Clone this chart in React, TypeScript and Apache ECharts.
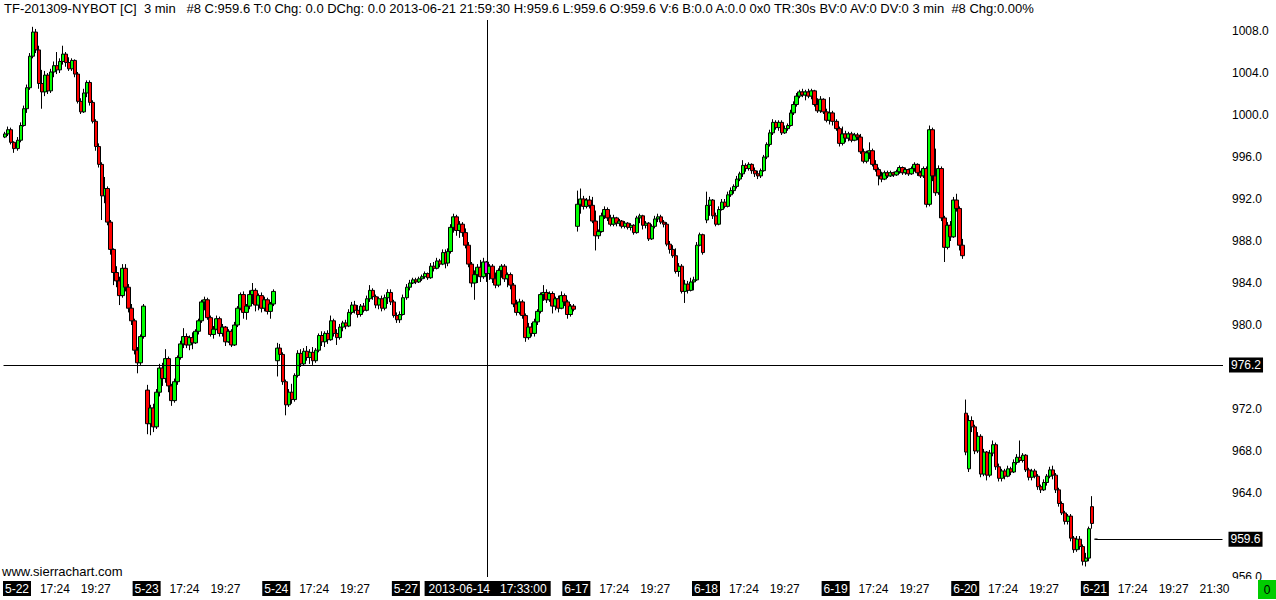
import React, { useEffect, useRef } from 'react';
import * as echarts from 'echarts';

const FONT = '"Liberation Sans", Arial, sans-serif';

// Session days shown on the chart (3-minute bars)
const dayNames = ['5-21', '5-22', '5-23', '5-24', '5-27', '6-14', '6-17', '6-18', '6-19', '6-20', '6-21'];
const dayFirstTimes = ['21:21', '15:30', '15:30', '15:30', '15:30', '15:30', '15:30', '15:30', '15:30', '15:30', '15:30'];
const dayBarCounts = [13, 130, 130, 130, 41, 130, 130, 130, 130, 130, 129];

// Tick labels shown on the time axis
const xTickLabels = [
  '5-22 15:30', '5-22 17:24', '5-22 19:27',
  '5-23 15:30', '5-23 17:24', '5-23 19:27',
  '5-24 15:30', '5-24 17:24', '5-24 19:27',
  '5-27 15:30', '6-14 17:33',
  '6-17 15:30', '6-17 17:24', '6-17 19:27',
  '6-18 15:30', '6-18 17:24', '6-18 19:27',
  '6-19 15:30', '6-19 17:24', '6-19 19:27',
  '6-20 15:30', '6-20 17:24', '6-20 19:27',
  '6-21 15:30', '6-21 17:24', '6-21 19:27', '6-21 21:30',
];
// Price tick labels hidden under the highlighted price boxes
const hiddenPriceTicks = [976, 960];
const crosshairBar = '6-14 17:33';
const crosshairLabel = '2013-06-14   17:33:00';
const crosshairPrice = 976.2;
const highlightedBar = '6-14 17:30';
const lastPrice = 959.6;

// OHLC values [open, close, low, high], one candle per 9 minutes
const ohlc0521 = [
  [997.9, 998.2, 997.8, 998.4], [998.2, 998.6, 998.0, 998.9], [998.6, 997.4, 997.2, 998.8], [997.4, 996.8, 996.4, 997.5],
];
const ohlc0522 = [
  [996.8, 997.6, 996.6, 997.9], [997.6, 999.0, 997.4, 999.3], [999.0, 1000.6, 998.9, 1000.9], [1000.6, 1002.6, 1000.2, 1002.9],
  [1002.6, 1005.6, 1002.4, 1005.9], [1005.6, 1007.9, 1005.4, 1008.4], [1007.9, 1006.2, 1005.9, 1008.2], [1006.2, 1003.0, 1002.5, 1006.6],
  [1003.0, 1002.2, 1000.6, 1004.3], [1002.2, 1003.8, 1001.8, 1004.2], [1003.8, 1002.3, 1002.0, 1004.0], [1002.3, 1004.1, 1002.1, 1004.4],
  [1004.1, 1004.7, 1003.6, 1005.1], [1004.7, 1004.3, 1003.9, 1006.0], [1004.3, 1005.1, 1004.0, 1005.4], [1005.1, 1005.8, 1004.8, 1006.6],
  [1005.8, 1005.0, 1004.6, 1006.0], [1005.0, 1004.4, 1004.2, 1005.5], [1004.4, 1005.2, 1004.2, 1005.4], [1005.2, 1003.9, 1003.6, 1005.3],
  [1003.9, 1001.3, 1001.1, 1004.1], [1001.3, 1000.3, 1000.1, 1001.6], [1000.3, 1002.1, 1000.2, 1002.5], [1002.1, 1003.1, 1001.7, 1003.3],
  [1003.1, 1001.2, 1000.9, 1003.3], [1001.2, 999.4, 999.2, 1001.4], [999.4, 997.0, 996.6, 999.6], [997.0, 995.3, 995.0, 997.3],
  [995.3, 992.3, 990.0, 995.5], [992.3, 993.0, 991.6, 994.1], [993.0, 989.8, 989.5, 993.2], [989.8, 987.2, 986.7, 990.0],
  [987.2, 985.0, 983.8, 987.3], [985.0, 984.2, 983.6, 985.6], [984.2, 982.8, 981.9, 984.6], [982.8, 985.4, 982.6, 985.8],
  [985.4, 983.6, 983.2, 985.8], [983.6, 981.6, 981.2, 983.9], [981.6, 980.4, 980.0, 982.0], [980.4, 977.6, 977.2, 980.6],
  [977.6, 976.4, 975.4, 977.9], [976.4, 978.9, 976.2, 979.1], [978.9, 981.8, 978.7, 982.0],
];
const ohlc0523 = [
  [973.8, 970.6, 969.6, 974.3], [970.6, 972.1, 969.5, 972.4], [972.1, 970.3, 969.8, 972.5], [970.3, 973.6, 970.1, 973.9],
  [973.6, 975.9, 973.2, 976.3], [975.9, 974.9, 974.2, 976.4], [974.9, 976.8, 974.5, 977.7], [976.8, 974.2, 973.6, 977.0],
  [974.2, 972.8, 972.3, 974.4], [972.8, 974.6, 972.6, 974.9], [974.6, 976.9, 974.3, 977.1], [976.9, 978.2, 976.7, 978.5],
  [978.2, 978.9, 977.8, 979.7], [978.9, 978.1, 977.8, 979.2], [978.1, 978.8, 977.6, 979.0], [978.8, 978.3, 977.7, 979.3],
  [978.3, 979.4, 978.2, 979.6], [979.4, 980.4, 979.1, 980.6], [980.4, 982.2, 980.2, 982.4], [982.2, 982.4, 981.4, 982.7],
  [982.4, 980.7, 980.5, 982.6], [980.7, 979.1, 978.9, 980.9], [979.1, 979.6, 978.7, 979.9], [979.6, 980.6, 979.5, 980.9],
  [980.6, 979.2, 978.9, 980.8], [979.2, 979.8, 978.9, 980.1], [979.8, 978.4, 978.0, 979.9], [978.4, 979.4, 978.3, 979.6],
  [979.4, 978.1, 977.9, 979.6], [978.1, 980.0, 978.0, 980.3], [980.0, 981.6, 979.8, 981.8], [981.6, 982.9, 981.4, 983.1],
  [982.9, 981.2, 980.6, 983.2], [981.2, 981.8, 980.5, 982.0], [981.8, 982.9, 981.5, 983.3], [982.9, 983.3, 982.0, 984.0],
  [983.3, 981.9, 981.3, 983.5], [981.9, 982.8, 981.4, 983.0], [982.8, 981.6, 981.2, 983.1], [981.6, 982.4, 981.3, 982.7],
  [982.4, 981.3, 981.0, 982.6], [981.3, 982.0, 980.6, 982.2], [982.0, 983.2, 981.8, 983.4],
];
const ohlc0524 = [
  [976.6, 977.8, 975.1, 978.3], [977.8, 977.2, 976.8, 978.2], [977.2, 974.6, 974.3, 977.4], [974.6, 972.4, 971.4, 974.8],
  [972.4, 973.6, 972.2, 973.9], [973.6, 972.9, 972.5, 974.4], [972.9, 975.2, 972.7, 975.4], [975.2, 977.3, 975.0, 977.6],
  [977.3, 976.3, 976.0, 977.7], [976.3, 977.5, 976.1, 977.8], [977.5, 976.9, 976.6, 978.0], [976.9, 977.4, 976.3, 977.7],
  [977.4, 976.6, 976.2, 977.9], [976.6, 977.6, 976.4, 977.8], [977.6, 979.0, 977.4, 979.2], [979.0, 978.4, 978.0, 979.4],
  [978.4, 979.2, 977.9, 979.4], [979.2, 978.6, 978.2, 979.5], [978.6, 980.4, 978.5, 980.9], [980.4, 979.2, 978.9, 980.6],
  [979.2, 978.8, 978.1, 979.6], [978.8, 979.8, 978.6, 980.1], [979.8, 980.2, 979.4, 980.4], [980.2, 979.9, 979.6, 980.5],
  [979.9, 981.2, 979.8, 981.5], [981.2, 981.9, 981.0, 982.2], [981.9, 981.4, 981.1, 982.3], [981.4, 981.0, 980.7, 981.9],
  [981.0, 981.8, 980.8, 982.0], [981.8, 981.4, 981.2, 982.1], [981.4, 982.5, 981.3, 982.8], [982.5, 983.3, 982.2, 983.8],
  [983.3, 982.7, 982.4, 983.5], [982.7, 981.9, 981.6, 982.9], [981.9, 982.5, 981.5, 982.7], [982.5, 981.6, 981.3, 982.8],
  [981.6, 982.6, 981.4, 982.9], [982.6, 983.1, 982.0, 983.4], [983.1, 982.2, 981.9, 983.4], [982.2, 980.9, 980.7, 982.4],
  [980.9, 980.5, 980.2, 981.2], [980.5, 981.0, 980.2, 981.3], [981.0, 982.6, 980.9, 982.9],
];
const ohlc0527 = [
  [982.6, 983.6, 982.4, 983.9], [983.6, 984.0, 983.3, 984.3], [984.0, 984.3, 983.9, 984.5], [984.3, 984.1, 983.9, 984.5],
  [984.1, 984.4, 984.0, 984.6], [984.4, 984.6, 984.2, 984.8], [984.6, 984.9, 984.4, 985.1], [984.9, 984.5, 984.3, 985.0],
  [984.5, 985.6, 984.4, 985.9], [985.6, 985.4, 985.1, 986.0], [985.4, 986.1, 985.3, 986.4], [986.1, 985.8, 985.5, 986.3],
  [985.8, 986.9, 985.7, 987.2], [986.9, 985.9, 985.4, 987.2],
];
const ohlc0614 = [
  [985.9, 987.0, 985.6, 987.3], [987.0, 989.3, 986.8, 989.6], [989.3, 990.3, 988.8, 990.6], [990.3, 989.0, 988.5, 990.5],
  [989.0, 989.6, 988.3, 989.9], [989.6, 988.8, 988.4, 989.8], [988.8, 987.6, 987.3, 989.2], [987.6, 985.8, 985.5, 987.9],
  [985.8, 984.0, 983.6, 986.0], [984.0, 984.8, 982.4, 985.2], [984.8, 985.5, 984.0, 985.8], [985.5, 984.6, 984.1, 986.2],
  [984.6, 986.0, 984.4, 986.4], [986.0, 984.9, 984.1, 986.1], [984.9, 985.6, 984.3, 985.8], [985.6, 984.4, 984.0, 985.8],
  [984.4, 983.8, 983.5, 985.0], [983.8, 985.2, 983.6, 985.4], [985.2, 985.6, 984.5, 985.8], [985.6, 984.4, 984.1, 985.8],
  [984.4, 984.8, 983.6, 985.0], [984.8, 983.8, 983.4, 985.0], [983.8, 982.0, 981.7, 984.0], [982.0, 981.2, 980.9, 982.4],
  [981.2, 982.2, 981.0, 982.5], [982.2, 980.9, 980.6, 982.4], [980.9, 978.8, 978.4, 981.1], [978.8, 979.8, 978.6, 980.2],
  [979.8, 979.2, 978.9, 980.2], [979.2, 980.3, 978.9, 980.6], [980.3, 981.3, 980.0, 981.5], [981.3, 982.9, 981.1, 983.1],
  [982.9, 983.1, 982.3, 983.8], [983.1, 982.4, 982.1, 983.4], [982.4, 983.0, 982.2, 983.2], [983.0, 981.8, 981.1, 983.2],
  [981.8, 982.5, 981.4, 982.7], [982.5, 981.6, 981.2, 982.8], [981.6, 982.8, 981.5, 983.2], [982.8, 982.2, 981.8, 983.0],
  [982.2, 981.0, 980.6, 982.4], [981.0, 981.8, 980.8, 982.0], [981.8, 981.5, 981.3, 982.0],
];
const ohlc0617 = [
  [989.4, 991.5, 988.9, 992.8], [991.5, 992.0, 990.6, 993.0], [992.0, 991.3, 991.0, 992.3], [991.3, 991.9, 991.1, 992.1],
  [991.9, 991.4, 991.1, 992.3], [991.4, 989.9, 989.7, 992.2], [989.9, 988.5, 987.1, 990.9], [988.5, 988.9, 988.2, 989.1],
  [988.9, 990.4, 988.8, 990.7], [990.4, 991.0, 990.1, 991.3], [991.0, 990.2, 989.9, 991.2], [990.2, 989.6, 989.4, 990.5],
  [989.6, 990.2, 989.4, 990.5], [990.2, 989.7, 989.4, 990.3], [989.7, 989.9, 989.4, 990.1], [989.9, 989.4, 989.2, 990.0],
  [989.4, 989.7, 989.2, 989.9], [989.7, 989.3, 989.1, 989.8], [989.3, 989.5, 989.0, 989.7], [989.5, 988.8, 988.6, 989.6],
  [988.8, 990.2, 988.7, 990.4], [990.2, 990.4, 989.7, 990.6], [990.4, 989.5, 989.1, 990.5], [989.5, 989.7, 989.2, 989.9],
  [989.7, 988.2, 988.0, 989.8], [988.2, 989.4, 988.1, 989.6], [989.4, 990.1, 989.2, 990.4], [990.1, 990.3, 989.8, 990.6],
  [990.3, 989.8, 989.6, 990.5], [989.8, 989.6, 989.3, 990.0], [989.6, 987.7, 987.5, 989.8], [987.7, 987.2, 986.8, 988.0],
  [987.2, 986.6, 986.4, 987.6], [986.6, 985.1, 984.9, 987.3], [985.1, 985.6, 984.6, 985.9], [985.6, 983.2, 983.0, 985.8],
  [983.2, 983.9, 982.1, 984.3], [983.9, 983.3, 983.0, 984.2], [983.3, 984.1, 983.2, 984.5], [984.1, 984.3, 983.3, 984.6],
  [984.3, 987.6, 984.2, 987.9], [987.6, 988.6, 987.5, 988.8], [988.6, 986.9, 986.7, 988.7],
];
const ohlc0618 = [
  [990.0, 991.4, 989.7, 992.7], [991.4, 991.9, 990.4, 992.2], [991.9, 990.4, 990.1, 992.0], [990.4, 989.6, 989.4, 990.7],
  [989.6, 991.0, 989.5, 991.3], [991.0, 991.7, 990.9, 992.0], [991.7, 991.3, 991.1, 992.0], [991.3, 992.4, 991.2, 992.7],
  [992.4, 992.8, 992.2, 993.1], [992.8, 993.2, 992.5, 993.4], [993.2, 993.9, 993.0, 994.2], [993.9, 994.4, 993.7, 994.6],
  [994.4, 995.2, 994.1, 995.7], [995.2, 994.9, 994.6, 995.4], [994.9, 995.3, 994.7, 995.5], [995.3, 994.7, 994.4, 995.4],
  [994.7, 994.4, 994.1, 995.0], [994.4, 994.2, 993.9, 994.7], [994.2, 994.7, 994.0, 994.9], [994.7, 996.0, 994.6, 996.2],
  [996.0, 997.2, 995.8, 997.4], [997.2, 998.3, 997.0, 998.6], [998.3, 999.3, 998.1, 999.6], [999.3, 998.8, 998.6, 999.5],
  [998.8, 999.3, 998.5, 999.5], [999.3, 998.3, 998.1, 999.5], [998.3, 998.7, 998.2, 999.0], [998.7, 999.0, 998.5, 999.2],
  [999.0, 1000.2, 998.9, 1000.5], [1000.2, 1001.0, 1000.0, 1001.3], [1001.0, 1001.8, 1000.8, 1002.1], [1001.8, 1002.2, 1001.6, 1002.4],
  [1002.2, 1001.9, 1001.7, 1002.5], [1001.9, 1002.2, 1001.4, 1002.4], [1002.2, 1001.8, 1001.6, 1002.5], [1001.8, 1002.3, 1001.5, 1002.5],
  [1002.3, 1001.0, 1000.8, 1002.4], [1001.0, 1000.4, 1000.2, 1001.6], [1000.4, 1001.5, 1000.2, 1001.8], [1001.5, 1000.3, 1000.1, 1001.6],
  [1000.3, 999.5, 999.3, 1000.6], [999.5, 1000.2, 999.1, 1001.7], [1000.2, 999.4, 999.0, 1000.4],
];
const ohlc0619 = [
  [999.4, 998.7, 998.5, 999.6], [998.7, 997.3, 997.0, 998.9], [997.3, 998.2, 997.1, 998.9], [998.2, 997.8, 997.4, 998.5],
  [997.8, 998.2, 997.5, 998.4], [998.2, 997.6, 997.4, 998.4], [997.6, 998.1, 997.5, 998.3], [998.1, 997.9, 997.6, 998.3],
  [997.9, 996.5, 996.3, 998.2], [996.5, 995.6, 995.4, 996.8], [995.6, 996.4, 995.4, 996.6], [996.4, 996.6, 995.8, 997.4],
  [996.6, 995.3, 995.1, 996.8], [995.3, 994.8, 994.6, 995.7], [994.8, 994.2, 993.3, 995.0], [994.2, 993.9, 993.6, 994.6],
  [993.9, 994.5, 993.8, 994.7], [994.5, 994.2, 994.0, 994.7], [994.2, 994.5, 994.1, 994.7], [994.5, 994.3, 994.1, 994.6],
  [994.3, 994.6, 994.2, 994.8], [994.6, 995.0, 994.4, 995.2], [995.0, 994.5, 994.3, 995.1], [994.5, 994.8, 994.3, 995.0],
  [994.8, 994.4, 994.2, 994.9], [994.4, 994.9, 994.3, 995.1], [994.9, 995.3, 994.6, 995.5], [995.3, 994.5, 994.2, 995.4],
  [994.5, 994.2, 994.0, 994.7], [994.2, 994.9, 994.0, 995.1], [994.9, 991.5, 991.2, 995.1], [991.5, 998.6, 991.3, 999.0],
  [998.6, 994.2, 993.7, 998.8], [994.2, 992.6, 992.3, 996.8], [992.6, 994.9, 992.4, 995.2], [994.9, 990.2, 989.9, 995.1],
  [990.2, 987.4, 986.0, 990.4], [987.4, 989.5, 987.2, 989.8], [989.5, 988.4, 988.0, 989.9], [988.4, 991.9, 988.3, 992.2],
  [991.9, 991.1, 990.8, 992.5], [991.1, 987.6, 987.1, 991.3], [987.6, 986.6, 986.3, 988.2],
];
const ohlc0620 = [
  [971.6, 967.9, 967.6, 972.9], [966.3, 970.9, 966.0, 971.4], [970.9, 970.3, 969.8, 971.3], [970.3, 968.0, 967.7, 970.5],
  [968.0, 969.4, 967.8, 969.8], [969.4, 965.8, 965.5, 969.6], [965.8, 967.9, 965.6, 968.2], [967.9, 965.7, 965.2, 968.0],
  [965.7, 967.8, 965.5, 968.1], [967.8, 968.6, 967.5, 969.0], [968.6, 966.5, 966.2, 968.8], [966.5, 965.4, 965.1, 966.8],
  [965.4, 966.1, 965.1, 966.3], [966.1, 965.6, 965.3, 966.3], [965.6, 966.3, 965.5, 966.6], [966.3, 966.0, 965.7, 966.5],
  [966.0, 966.9, 965.9, 967.2], [966.9, 967.4, 966.7, 967.7], [967.4, 967.1, 966.9, 969.0], [967.1, 967.6, 966.9, 967.8],
  [967.6, 966.2, 966.0, 967.7], [966.2, 965.5, 965.2, 966.4], [965.5, 966.1, 965.2, 966.3], [966.1, 965.6, 965.4, 966.3],
  [965.6, 964.6, 964.3, 965.8], [964.6, 964.3, 964.0, 964.8], [964.3, 965.0, 964.2, 965.3], [965.0, 965.6, 964.7, 965.8],
  [965.6, 966.2, 965.4, 966.5], [966.2, 965.7, 965.3, 966.6], [965.7, 964.3, 964.0, 965.9], [964.3, 963.0, 962.7, 964.5],
  [963.0, 962.1, 961.9, 963.2], [962.1, 961.3, 961.0, 962.3], [961.3, 961.8, 961.0, 962.0], [961.8, 959.7, 959.4, 962.0],
  [959.7, 958.6, 958.3, 959.9], [958.6, 959.6, 958.4, 959.9], [959.6, 958.9, 958.6, 959.9], [958.9, 957.5, 957.1, 959.1],
  [957.5, 957.8, 957.0, 958.3], [957.8, 960.6, 957.5, 960.8], [962.7, 961.1, 960.6, 963.7],
];
const ohlc0621 = [
  [959.6, 959.6, 959.6, 959.6],
];
const dayCandles = [ohlc0521, ohlc0522, ohlc0523, ohlc0524, ohlc0527, ohlc0614, ohlc0617, ohlc0618, ohlc0619, ohlc0620, ohlc0621];

const headerText =
  'TF-201309-NYBOT [C]  3 min   #8 C:959.6 T:0 Chg: 0.0 DChg: 0.0 2013-06-21 21:59:30 H:959.6 L:959.6 O:959.6 V:6 B:0.0 A:0.0 0x0 TR:30s BV:0 AV:0 DV:0 3 min  #8 Chg:0.00%';

function pad(n: number) {
  return n < 10 ? '0' + n : '' + n;
}

export default function App() {
  const ref = useRef<HTMLDivElement>(null);

  useEffect(() => {
    document.body.style.margin = '0';
    if (!ref.current) return;
    const chart = echarts.init(ref.current, undefined, { renderer: 'svg' });

    const categories: string[] = [];
    const dayStart: number[] = [];
    dayNames.forEach((d, i) => {
      dayStart.push(categories.length);
      const [h, m] = dayFirstTimes[i].split(':').map(Number);
      const t0 = h * 60 + m;
      for (let k = 0; k < dayBarCounts[i]; k++) {
        const t = t0 + 3 * k;
        categories.push(`${d} ${pad(Math.floor(t / 60))}:${pad(t % 60)}`);
      }
    });

    const seriesData: any[] = [];
    dayCandles.forEach((arr, d) => {
      arr.forEach((c, k) => {
        const idx = dayStart[d] + 1 + 3 * k;
        const item: any = { value: [idx, c[0], c[1], c[2], c[3]] };
        if (categories[idx] === highlightedBar) {
          item.itemStyle = { color: '#ff00ff', color0: '#ff00ff' };
        }
        seriesData.push(item);
      });
    });
    const lastIdx = seriesData[seriesData.length - 1].value[0];
    const tickSet = new Set(xTickLabels);

    const boxLabel = {
      show: true,
      position: 'end',
      distance: 6,
      color: '#fff',
      backgroundColor: '#000',
      padding: [2, 2, 1, 2],
      fontSize: 12,
      fontFamily: FONT,
    };

    chart.setOption({
      animation: false,
      title: {
        text: headerText,
        left: 4,
        top: 2,
        padding: 0,
        textStyle: { fontSize: 13, fontWeight: 'normal', color: '#000', fontFamily: FONT },
      },
      grid: { left: 0, right: 53, top: 20, bottom: 23 },
      xAxis: {
        type: 'category',
        data: categories,
        boundaryGap: true,
        axisLine: { show: false },
        axisTick: { show: false },
        splitLine: { show: false },
        axisLabel: {
          interval: (_i: number, v: string) => tickSet.has(v),
          margin: 4,
          fontSize: 12,
          fontFamily: FONT,
          color: '#000',
          formatter: (v: string) => {
            if (v === crosshairBar) return `{c|${crosshairLabel}}`;
            const [day, time] = v.split(' ');
            if (time === '15:30') return `{d|${day}}`;
            return `{t|${time}}`;
          },
          rich: {
            d: { backgroundColor: '#000', color: '#fff', padding: [2, 2, 1, 2], fontSize: 12, fontFamily: FONT },
            c: { backgroundColor: '#000', color: '#fff', padding: [2, 4, 1, 4], fontSize: 12, fontFamily: FONT },
            t: { color: '#000', padding: [2, 2, 1, 2], fontSize: 12, fontFamily: FONT },
          },
        },
      },
      yAxis: {
        type: 'value',
        position: 'right',
        min: 956,
        max: 1009.05,
        interval: 4,
        axisLine: { show: false },
        axisTick: { show: false },
        splitLine: { show: false },
        axisLabel: {
          margin: 9,
          showMaxLabel: false,
          color: '#000',
          fontSize: 12,
          fontFamily: FONT,
          formatter: (v: number) =>
            Math.abs(v % 4) < 1e-6 && !hiddenPriceTicks.includes(Math.round(v)) ? v.toFixed(1) : '',
        },
      },
      series: [
        {
          type: 'candlestick',
          large: false,
          barWidth: 4,
          encode: { x: 0, y: [1, 2, 3, 4] },
          data: seriesData,
          itemStyle: {
            color: '#00ff00',
            color0: '#ff0000',
            borderColor: '#000',
            borderColor0: '#000',
            borderWidth: 1,
          },
          emphasis: { disabled: true },
          markLine: {
            silent: true,
            symbol: ['none', 'none'],
            animation: false,
            lineStyle: { color: '#000', width: 1, type: 'solid' },
            emphasis: { disabled: true },
            data: [
              { yAxis: crosshairPrice, label: { ...boxLabel, formatter: crosshairPrice.toFixed(1) } },
              { xAxis: crosshairBar, label: { show: false } },
              [
                { coord: [lastIdx, lastPrice] },
                { coord: [categories.length - 1, lastPrice], label: { ...boxLabel, formatter: lastPrice.toFixed(1) } },
              ],
            ],
          },
        },
      ],
      graphic: [
        {
          type: 'text',
          x: 2,
          y: 571,
          z: 100,
          style: { text: 'www.sierrachart.com', font: `13px ${FONT}`, fill: '#000', verticalAlign: 'middle' },
        },
        { type: 'rect', z: 100, shape: { x: 1232, y: 579, width: 26, height: 21 }, style: { fill: '#fff' } },
        { type: 'rect', z: 101, shape: { x: 1258, y: 580, width: 18, height: 19 }, style: { fill: '#00cc00' } },
        {
          type: 'text',
          z: 102,
          x: 1267,
          y: 590,
          style: { text: '0', font: `12px ${FONT}`, fill: '#000', align: 'center', verticalAlign: 'middle' },
        },
      ],
    });

    return () => chart.dispose();
  }, []);

  return <div ref={ref} style={{ width: 1276, height: 600 }} />;
}
